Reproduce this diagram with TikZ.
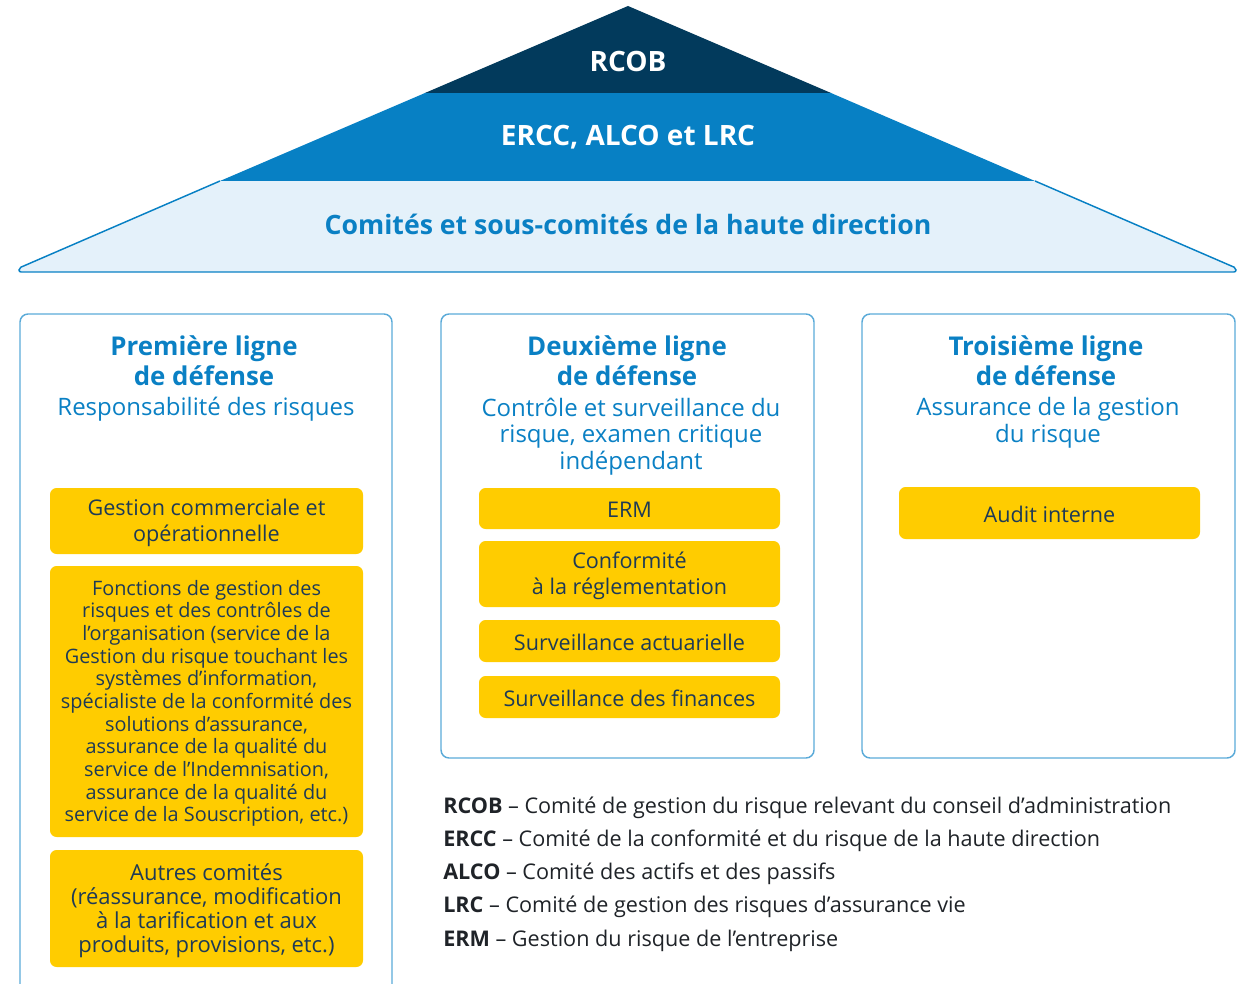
\documentclass[tikz,border=0pt]{standalone}
\usepackage{fontspec}
\setmainfont{Open Sans}
\usetikzlibrary{fit}

\definecolor{roofdark}{HTML}{023A5C}
\definecolor{roofmid}{HTML}{0780C4}
\definecolor{roofpale}{HTML}{E4F1FA}
\definecolor{titleblue}{HTML}{0A80C4}
\definecolor{frameblue}{HTML}{5AAAD8}
\definecolor{gold}{HTML}{FFCC00}
\definecolor{ink}{HTML}{1E3A56}
\definecolor{legendink}{HTML}{1F2328}

\begin{document}
\begin{tikzpicture}[x=0.75pt,y=-0.75pt,
  frame/.style={draw=frameblue, line width=1.1pt, rounded corners=6pt, inner sep=0pt},
  yellowbox/.style={fill=gold, rounded corners=5pt, inner sep=0pt, text=ink, align=center,
    font=\fontsize{16.2}{19.5}\selectfont},
  heading/.style={text=titleblue, align=center, font=\bfseries\fontsize{19.4}{22.5}\selectfont},
  subhead/.style={text=titleblue, align=center, font=\fontsize{18}{19.9}\selectfont},
  roofbold/.style={font=\bfseries\fontsize{20}{24}\selectfont},
  legend/.style={text=legendink, anchor=west, inner sep=0pt, font=\fontsize{16.2}{18}\selectfont}]

\useasboundingbox (0,0) rectangle (1247,984);
\clip (0,0) rectangle (1247,984);

% Roof: three bands
\fill[roofpale, rounded corners=1.5pt] (220,181) -- (19,268) -- (19,272) -- (1236,272) -- (1236,268) -- (1035,181) -- cycle;
\fill[roofmid] (425,93) -- (831,93) -- (1035,181) -- (220,181) -- cycle;
\fill[roofdark] (628,6) -- (831,93) -- (425,93) -- cycle;
\draw[roofmid, line width=1.1pt, rounded corners=1.5pt]
  (220,181) -- (19,268) -- (19,272) -- (1236,272) -- (1236,268) -- (1035,181);

\node (rcob) [roofbold, text=white, font=\bfseries\fontsize{21}{24}\selectfont] at (628,61) {RCOB};
\node (ercc) [roofbold, text=white, font=\bfseries\fontsize{21}{24}\selectfont] at (628,137) {ERCC, ALCO et LRC};
\node (comites) [roofbold, text=titleblue] at (628,224) {Comités et sous-comités de la haute direction};

% Column frames
\node (line1) [frame, fit={(20,314) (392,1010)}] {};
\node (line2) [frame, fit={(441,314) (814,758)}] {};
\node (line3) [frame, fit={(862,314) (1235,758)}] {};

% Column headings
\node (head1) [heading] at (204,361) {Première ligne\\de défense};
\node (sub1) [subhead] at (206,409.5) {Responsabilité des risques};

\node (head2) [heading] at (627,361) {Deuxième ligne\\de défense};
\node (sub2) [subhead] at (631,436.5) {Contrôle et surveillance du\\risque, examen critique\\indépendant};

\node (head3) [heading] at (1046,361) {Troisième ligne\\de défense};
\node (sub3) [subhead] at (1048,422.5) {Assurance de la gestion\\du risque};

% First line boxes
\node (gestcom) [yellowbox, fit={(50,488) (363,554)}] {};
\node at ([yshift=-1.5pt]gestcom.center) [yellowbox, fill=none] {Gestion commerciale et\\opérationnelle};
\node (fonctions) [yellowbox, fit={(50,566) (363,837)}] {};
\node at ([yshift=-1.5pt]fonctions.center) [yellowbox, fill=none, font=\fontsize{14.9}{17}\selectfont]
  {Fonctions de gestion des\\risques et des contrôles de\\l’organisation (service de la\\Gestion du risque touchant les\\systèmes d’information,\\spécialiste de la conformité des\\solutions d’assurance,\\assurance de la qualité du\\service de l’Indemnisation,\\assurance de la qualité du\\service de la Souscription, etc.)};
\node (autres) [yellowbox, fit={(50,850) (363,967)}] {};
\node at ([yshift=-1.5pt]autres.center) [yellowbox, fill=none, font=\fontsize{16.5}{18}\selectfont]
  {Autres comités\\(réassurance, modification\\à la tarification et aux\\produits, provisions, etc.)};

% Second line boxes
\node (erm) [yellowbox, fit={(479,488) (780,529)}] {};
\node at ([yshift=-1pt]erm.center) [yellowbox, fill=none] {ERM};
\node (conf) [yellowbox, fit={(479,541) (780,607)}] {};
\node at ([yshift=-1.5pt]conf.center) [yellowbox, fill=none] {Conformité\\à la réglementation};
\node (actu) [yellowbox, fit={(479,620) (780,662)}] {};
\node at ([yshift=-1pt]actu.center) [yellowbox, fill=none] {Surveillance actuarielle};
\node (fin) [yellowbox, fit={(479,676) (780,718)}] {};
\node at ([yshift=-1pt]fin.center) [yellowbox, fill=none] {Surveillance des finances};

% Third line box
\node (audit) [yellowbox, fit={(899,487) (1200,539)}] {};
\node at ([yshift=-1pt]audit.center) [yellowbox, fill=none] {Audit interne};

% Abbreviations
\foreach \abbr/\desc [count=\i from 0] in {
    RCOB/{Comité de gestion du risque relevant du conseil d’administration},
    ERCC/{Comité de la conformité et du risque de la haute direction},
    ALCO/{Comité des actifs et des passifs},
    LRC/{Comité de gestion des risques d’assurance vie},
    ERM/{Gestion du risque de l’entreprise}}
  \node (leg\i) [legend] at (443,807.5+33.25*\i) {\textbf{\abbr} – \desc};

\end{tikzpicture}
\end{document}
